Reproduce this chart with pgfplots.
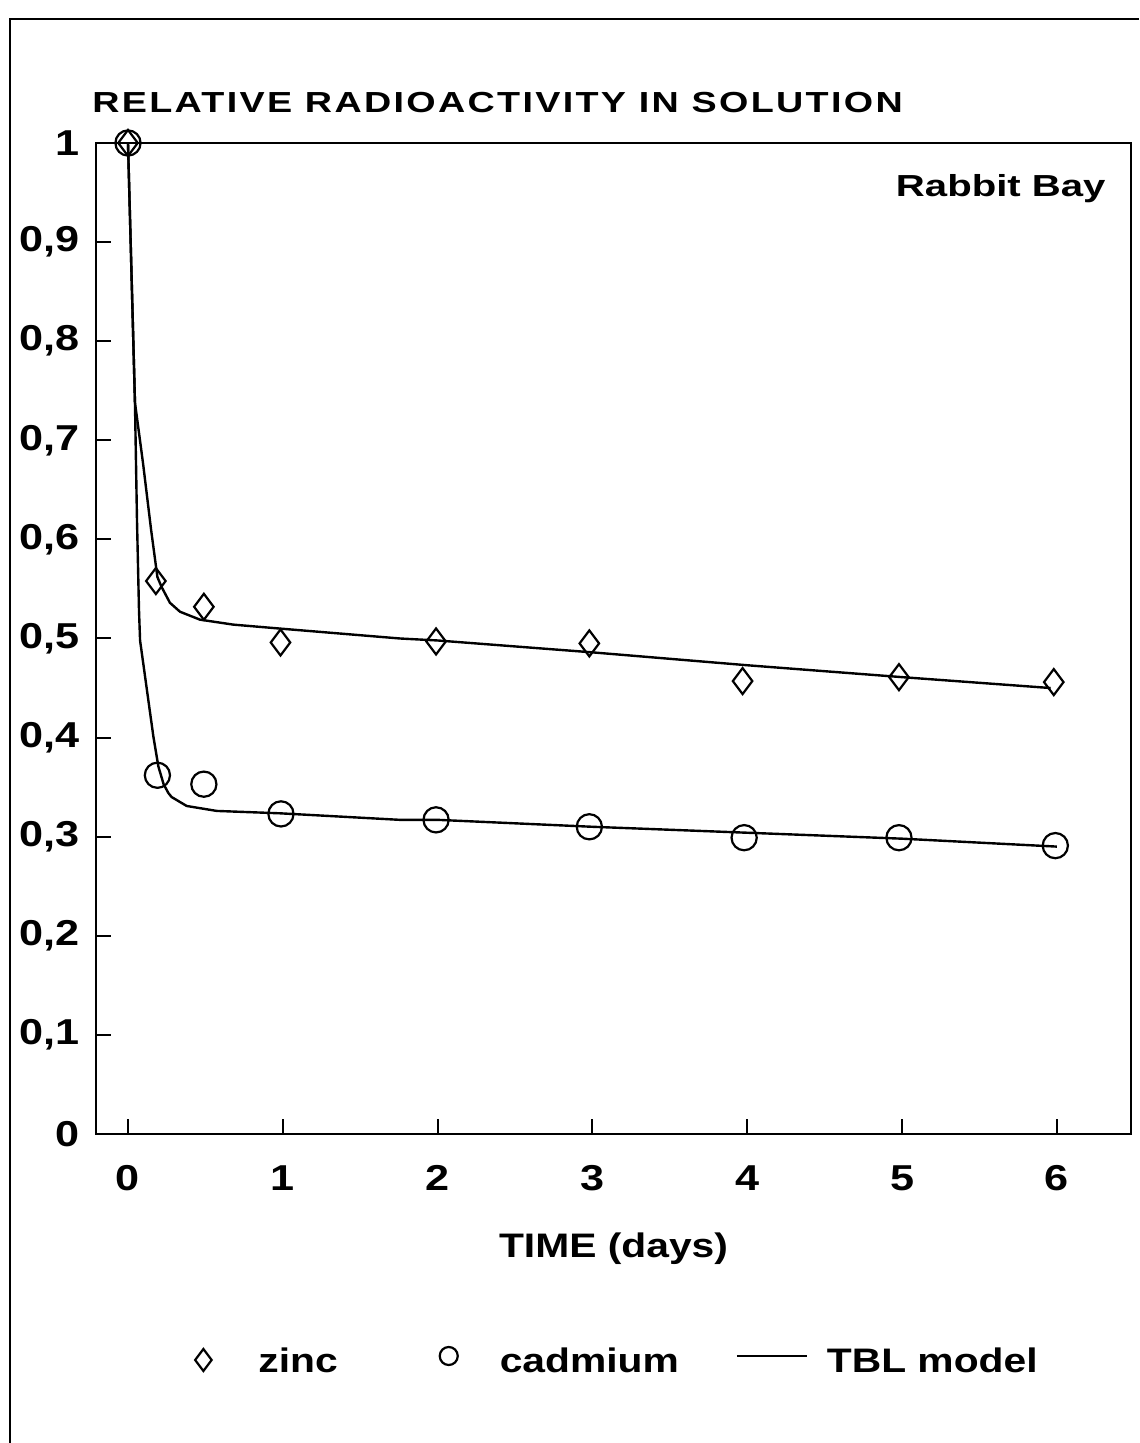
\documentclass[border=0pt]{standalone}
\usepackage{fontspec}
\setmainfont{Liberation Sans}
\newfontfamily\cf[FakeStretch=1.2]{Liberation Sans}
\newfontfamily\tf[FakeStretch=1.3, LetterSpace=8]{Liberation Sans}
\newfontfamily\rf[FakeStretch=1.32]{Liberation Sans}
\usepackage{pgfplots}
\pgfplotsset{compat=1.18}

\begin{document}
\begin{tikzpicture}
\path[use as bounding box] (-48pt,-154.5pt) rectangle (521.5pt,567pt);
\draw[line width=1pt] (-43pt,-154.5pt) -- (-43pt,557.5pt) -- (521.5pt,557.5pt);
\begin{axis}[
  at={(0pt,0pt)}, anchor=south west,
  scale only axis, width=517.5pt, height=495.5pt,
  xmin=-0.2067, xmax=6.479, ymin=0, ymax=1,
  clip=false,
  axis line style={line width=1.3pt},
  tick style={line width=1pt, black},
  major tick length=7.5pt,
  tick align=inside,
  xtick={0,1,2,3,4,5,6},
  ytick={0,0.1,0.2,0.3,0.4,0.5,0.6,0.7,0.8,0.9,1},
  xtick pos=bottom, ytick pos=left,
  /pgf/number format/.cd, use comma, assume math mode=true,
  /pgfplots/.cd,
  yticklabel style={font=\cf\bfseries\fontsize{18}{20}\selectfont, anchor=east, inner sep=0pt, xshift=-8pt},
  xticklabel style={font=\cf\bfseries\fontsize{18}{20}\selectfont, anchor=north, inner sep=0pt, yshift=-15.5pt},
  title={RELATIVE RADIOACTIVITY IN SOLUTION},
  title style={at={(axis description cs:-0.0039,1.01816)}, anchor=base west, inner sep=0pt,
    font=\tf\bfseries\fontsize{14.5}{16}\selectfont},
  xlabel={TIME (days)},
  xlabel style={at={(axis description cs:0.5,-0.1251)}, anchor=base, inner sep=0pt,
    font=\cf\bfseries\fontsize{17}{19}\selectfont},
  legend columns=3,
  legend style={at={(axis description cs:0.08406,-0.22805)}, anchor=west,
    draw=none, fill=none, inner sep=0pt, column sep=0pt, row sep=0pt,
    cells={anchor=west},
    nodes={inner sep=0pt, text depth=0pt, font=\cf\bfseries\fontsize{17}{19}\selectfont}},
]
\addplot[only marks, mark=diamond, mark size=6.5pt, mark options={line width=1.1pt, black},
  legend image code/.code={\path[draw=none, fill=none] (-10pt,-15pt) rectangle (27.5pt,15pt);
    \draw[black, line width=1pt, mark=diamond, mark size=5.5pt] plot coordinates {(0pt,0pt)};}]
coordinates {
(0,1.0) (0.18,0.558) (0.49,0.532) (0.985,0.496) (1.99,0.497) (2.98,0.495)
(3.97,0.457) (4.98,0.461) (5.98,0.456)
};
\addlegendentry{zinc}
\addplot[only marks, mark=o, mark size=6.3pt, mark options={line width=1.1pt, black},
  legend image code/.code={\path[draw=none, fill=none] (-55.5pt,-15pt) rectangle (25.5pt,15pt);
    \draw[black, line width=1pt, mark=o, mark size=4.5pt] plot coordinates {(0pt,2pt)};}]
coordinates {
(0,1.0) (0.19,0.362) (0.49,0.353) (0.988,0.323) (1.99,0.317) (2.98,0.310)
(3.98,0.299) (4.98,0.299) (5.99,0.291)
};
\addlegendentry{cadmium}
\addplot[no marks, black, line width=1.2pt,
  legend image code/.code={\path[draw=none, fill=none] (-29pt,-15pt) rectangle (45pt,15pt);
    \draw[black, line width=1.3pt] (0pt,2pt) -- (35pt,2pt);}]
coordinates {
(0,1.0) (0.045,0.738) (0.097,0.677) (0.149,0.610) (0.19,0.562) (0.217,0.552)
(0.271,0.536) (0.336,0.527) (0.465,0.519) (0.68,0.514) (0.982,0.510)
(1.757,0.500) (2.0,0.498) (3.0,0.486) (4.0,0.473) (5.0,0.461) (5.96,0.450)
};
\addlegendentry{TBL model}
\addplot[no marks, black, line width=1.2pt, forget plot]
coordinates {
(0,1.0) (0.045,0.738) (0.058,0.62) (0.071,0.529) (0.078,0.498) (0.164,0.401)
(0.196,0.371) (0.23,0.353) (0.261,0.344) (0.282,0.340) (0.379,0.331)
(0.573,0.326) (0.982,0.3236) (1.757,0.317) (2.0,0.317) (3.0,0.310)
(4.0,0.304) (5.0,0.298) (6.0,0.290)
};
\node[anchor=base east, inner sep=0pt,
  font=\rf\bfseries\fontsize{15.2}{17}\selectfont]
  at (rel axis cs:0.9758,0.9455) {Rabbit Bay};
\end{axis}
\end{tikzpicture}
\end{document}
